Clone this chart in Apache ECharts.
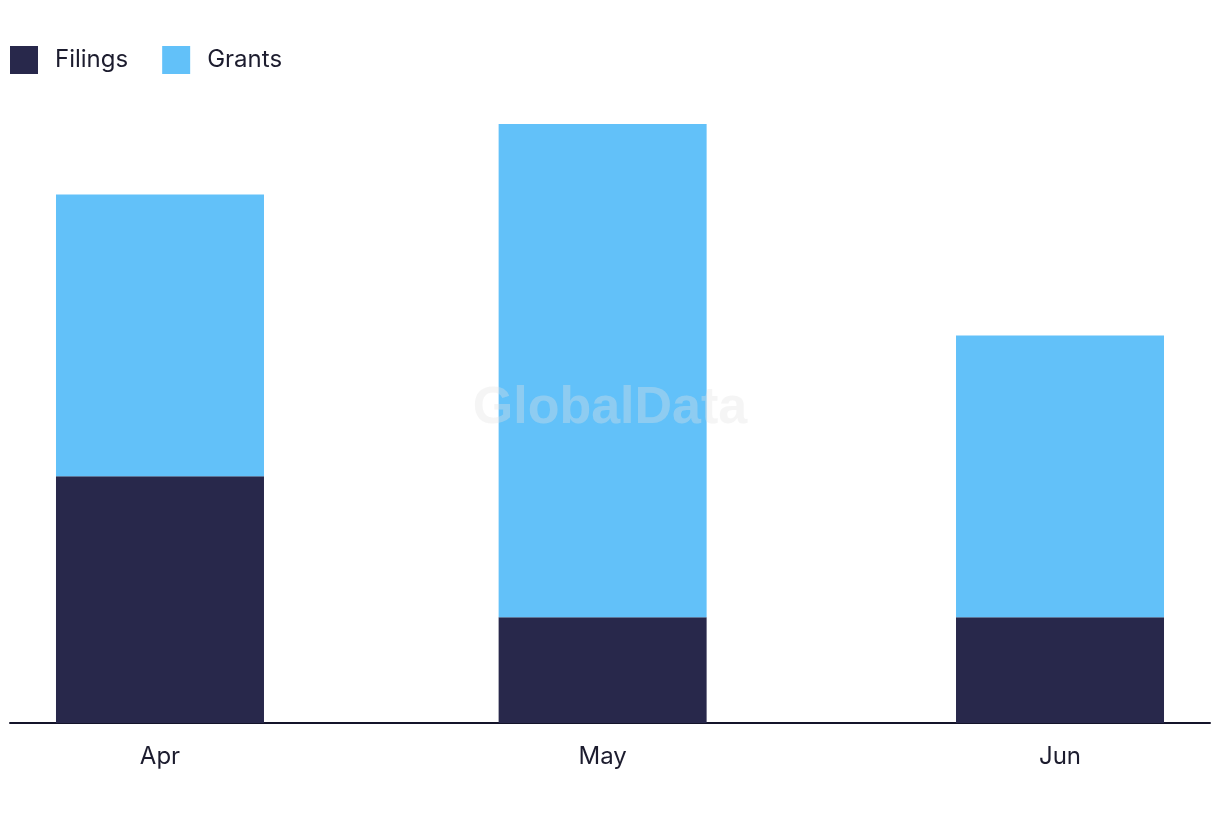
<!DOCTYPE html>
<html>
<head>
<meta charset="utf-8">
<script src="https://cdn.jsdelivr.net/npm/echarts@6/dist/echarts.min.js"></script>
<style>html,body{margin:0;padding:0;background:#fff}#c{width:1220px;height:822px}</style>
</head>
<body>
<div id="c"></div>
<script>
const categories = ['2024-04-01', '2024-05-01', '2024-06-01'];
const tickLabels = ['Apr', 'May', 'Jun'];
const filings = [7, 3, 3];
const grants = [8, 14, 8];

const DAY = 86400000;
const ts = categories.map(d => Date.parse(d + 'T00:00:00Z'));
// ECharts widens a time axis by half a bar width on each side for bar series,
// so the given bounds are inset to land the axis at the wanted extent.
const pad = 3.117 * DAY;

const chart = echarts.init(document.getElementById('c'));
chart.setOption({
  animation: false,
  useUTC: true,
  textStyle: { fontFamily: 'Inter, Lato, sans-serif' },
  legend: {
    left: 10, top: 46, padding: 0, itemWidth: 28, itemHeight: 28, itemGap: 34,
    icon: 'rect',
    textStyle: { fontSize: 24, color: '#1c1c2e', padding: [0, 0, 0, 12] },
    data: ['Filings', 'Grants']
  },
  grid: { left: 10, right: 10, top: 124, bottom: 99, containLabel: false },
  xAxis: {
    type: 'time',
    min: ts[0] - pad,
    max: ts[2] + pad,
    axisLine: { show: true, lineStyle: { color: '#14142a', width: 2 } },
    axisTick: { show: false },
    splitLine: { show: false },
    axisLabel: {
      showMinLabel: false, showMaxLabel: false, hideOverlap: false,
      fontSize: 24, color: '#1c1c2e', margin: 22,
      formatter: function (v) {
        const i = ts.indexOf(typeof v === 'number' ? v : +v);
        return i >= 0 ? tickLabels[i] : '';
      }
    }
  },
  yAxis: { type: 'value', min: 0, max: 17, show: false, splitLine: { show: false } },
  series: [
    { name: 'Filings', type: 'bar', stack: 'a', barWidth: 208, itemStyle: { color: '#28284b' },
      data: ts.map((t, i) => [t, filings[i]]) },
    { name: 'Grants', type: 'bar', stack: 'a', barWidth: 208, itemStyle: { color: '#62c1f9' },
      data: ts.map((t, i) => [t, grants[i]]) }
  ],
  graphic: [{
    type: 'text', left: 'center', top: 383, z: 100,
    style: { text: 'GlobalData', font: 'bold 52px "Liberation Sans", Arial, sans-serif', fill: 'rgba(225,225,225,0.35)' }
  }]
});
</script>
</body>
</html>
